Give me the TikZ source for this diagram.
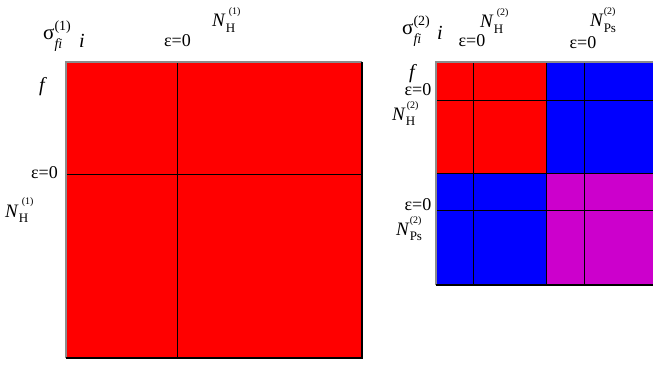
\documentclass[tikz,border=0pt]{standalone}
\usepackage{fontspec}
\setmainfont{Liberation Serif}
\definecolor{cred}{RGB}{255,0,0}
\definecolor{cblue}{RGB}{0,0,255}
\definecolor{cmag}{RGB}{204,0,204}
\definecolor{edgegray}{RGB}{140,140,140}
\newcommand{\NL}[4]{{\fontsize{19}{19}\selectfont\textit{N}}\makebox[0pt][l]{\hspace{#3}\raisebox{#4}{\fontsize{10}{10}\selectfont (#2)}}\raisebox{-0.3em}{\fontsize{13}{13}\selectfont #1}}
\newcommand{\SigL}[1]{{\fontsize{21}{21}\selectfont σ}\makebox[0pt][l]{\raisebox{0.55em}{\fontsize{14}{14}\selectfont (#1)}}\raisebox{-0.45em}{\fontsize{14}{14}\selectfont\textit{fi}}}
\begin{document}
\begin{tikzpicture}[x=1pt,y=-1pt,
  lab/.style={inner sep=0pt,font=\fontsize{18}{18}\selectfont},
  big/.style={inner sep=0pt,font=\fontsize{20}{20}\selectfont\itshape},
  grid/.style={draw=black,line width=0.8pt},
  topedge/.style={draw=edgegray,line width=1.2pt},
  botedge/.style={draw=black,line width=1.2pt}]
\useasboundingbox (0,0) rectangle (653,369);
\clip (0,0) rectangle (653,369);
% left matrix
\fill[cred] (66,62) rectangle (362,358);
\draw[grid] (177.5,62) -- (177.5,358);
\draw[grid] (66,174) -- (362,174);
\draw[topedge] (66,358) -- (66,62) -- (362,62);
\draw[botedge] (66,358) -- (362,358) -- (362,62);
% right matrix
\fill[cred] (436,62) rectangle (546.7,173.3);
\fill[cblue] (546.7,62) rectangle (657,173.3);
\fill[cblue] (436,173.3) rectangle (546.7,285);
\fill[cmag] (546.7,173.3) rectangle (657,285);
\draw[grid] (473.3,62) -- (473.3,285);
\draw[grid] (546.7,62) -- (546.7,285);
\draw[grid] (584,62) -- (584,285);
\draw[grid] (436,100) -- (657,100);
\draw[grid] (436,173.3) -- (657,173.3);
\draw[grid] (436,210.7) -- (657,210.7);
\draw[topedge] (436,285) -- (436,62) -- (657,62);
\draw[botedge] (436,285) -- (657,285);
% left labels
\node[lab,anchor=base west] (s1) at (43,40) {\SigL{1}};
\node[big,anchor=base west] (i1) at (79,48) {i};
\node[lab] (e1) at (177.5,41) {ε=0};
\node[lab,anchor=base west] (n1) at (212,27) {\NL{H}{1}{3pt}{0.72em}};
\node[big,anchor=base west] (f1) at (39,91) {f};
\node[lab,anchor=east] (e2) at (58,173) {ε=0};
\node[lab,anchor=base west] (n2) at (5,217) {\NL{H}{1}{3pt}{0.72em}};
% right labels
\node[lab,anchor=base west] (s2) at (402,35) {\SigL{2}};
\node[big,anchor=base west] (i2) at (437,40) {i};
\node[lab] (e3) at (472,41) {ε=0};
\node[lab,anchor=base west] (n3) at (480,28) {\NL{H}{2}{3pt}{0.72em}};
\node[lab,anchor=base west] (n4) at (590,27) {\NL{Ps}{2}{0pt}{0.72em}};
\node[lab] (e4) at (583,43) {ε=0};
\node[big,anchor=base west] (f2) at (409,78) {f};
\node[lab] (e5) at (418,89.5) {ε=0};
\node[lab,anchor=base west] (n5) at (392,120) {\NL{H}{2}{1pt}{0.66em}};
\node[lab] (e6) at (418,205) {ε=0};
\node[lab,anchor=base west] (n6) at (396,235.5) {\NL{Ps}{2}{0pt}{0.66em}};
\end{tikzpicture}
\end{document}
